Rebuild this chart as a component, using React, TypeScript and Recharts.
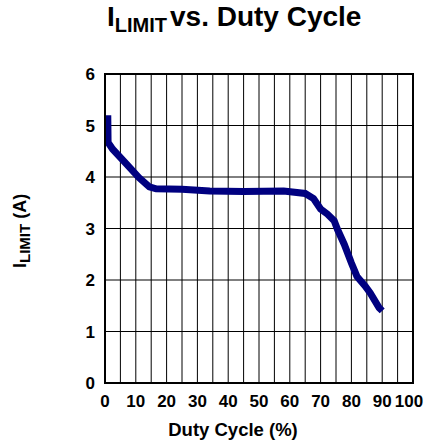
import {
  LineChart,
  Line,
  XAxis,
  YAxis,
  CartesianGrid,
  ReferenceArea,
} from "recharts";

// I_LIMIT curve
const duty = [
  0.9, 1, 2.5, 7, 11, 14.4, 16.6, 25, 34, 45, 58, 65, 67.7, 70, 72.2, 74.4,
  75.5, 77.7, 80, 81.8, 84.5, 86.1, 89, 90,
];
const ilimit = [
  5.2, 4.67, 4.54, 4.25, 3.99, 3.81, 3.77, 3.76, 3.73, 3.72, 3.73, 3.68, 3.58,
  3.38, 3.28, 3.15, 2.98, 2.69, 2.33, 2.07, 1.88, 1.75, 1.46, 1.4,
];

const xTicks = [0, 5, 10, 15, 20, 25, 30, 35, 40, 45, 50, 55, 60, 65, 70, 75, 80, 85, 90, 95, 100];
const yTicks = [0, 1, 2, 3, 4, 5, 6];

const data = duty.map((d, i) => ({ duty: d, ilimit: ilimit[i] }));

const font = "'Liberation Sans', Arial, sans-serif";
const tickStyle = { fontSize: 17, fontWeight: "bold", fill: "#000", fontFamily: font };

// only every other grid line gets a label; pull "100" in so it stays on the page
function XTick(props: any) {
  const { x, y, payload } = props;
  const v = payload.value;
  if (v % 10 !== 0) return null;
  return (
    <text
      x={x + (v === 100 ? -4 : 0)}
      y={y}
      dy="0.71em"
      textAnchor="middle"
      {...tickStyle}
    >
      {v}
    </text>
  );
}

export default function App() {
  return (
    <div style={{ position: "absolute", left: 0, top: 0, width: 425, height: 445, background: "#fff" }}>
      <LineChart
        width={425}
        height={445}
        data={data}
        margin={{ top: 74, right: 12, bottom: 32, left: 45 }}
      >
        <CartesianGrid stroke="#000" strokeWidth={1} horizontal vertical />
        <XAxis
          dataKey="duty"
          type="number"
          domain={[0, 100]}
          ticks={xTicks}
          interval={0}
          tickLine={false}
          axisLine={{ stroke: "#000", strokeWidth: 2 }}
          tick={<XTick />}
          tickMargin={6}
          height={30}
        />
        <YAxis
          type="number"
          domain={[0, 6]}
          ticks={yTicks}
          interval={0}
          tickLine={false}
          axisLine={{ stroke: "#000", strokeWidth: 2 }}
          tick={tickStyle}
          tickMargin={4}
          width={60}
        />
        <ReferenceArea
          x1={0}
          x2={100}
          y1={0}
          y2={6}
          fill="none"
          stroke="#000"
          strokeWidth={2}
          ifOverflow="visible"
        />
        <Line
          type="linear"
          dataKey="ilimit"
          stroke="#000080"
          strokeWidth={7}
          dot={false}
          isAnimationActive={false}
        />
      </LineChart>
      <svg
        width={425}
        height={445}
        style={{ position: "absolute", left: 0, top: 0, pointerEvents: "none" }}
      >
        <text x={107} y={26} fontFamily={font} fontWeight="bold" fontSize={28} fill="#000">
          I
          <tspan fontSize={20} dy={6}>LIMIT</tspan>
          <tspan x={170} dy={-6}>vs. Duty Cycle</tspan>
        </text>
        <text
          x={26}
          y={268}
          transform="rotate(-90 26 268)"
          fontFamily={font}
          fontWeight="bold"
          fontSize={18}
          fill="#000"
        >
          I
          <tspan fontSize={15} dy={4}>LIMIT</tspan>
          <tspan dy={-4}> (A)</tspan>
        </text>
        <text
          x={233}
          y={436}
          textAnchor="middle"
          fontFamily={font}
          fontWeight="bold"
          fontSize={18.5}
          fill="#000"
        >
          Duty Cycle (%)
        </text>
      </svg>
    </div>
  );
}
